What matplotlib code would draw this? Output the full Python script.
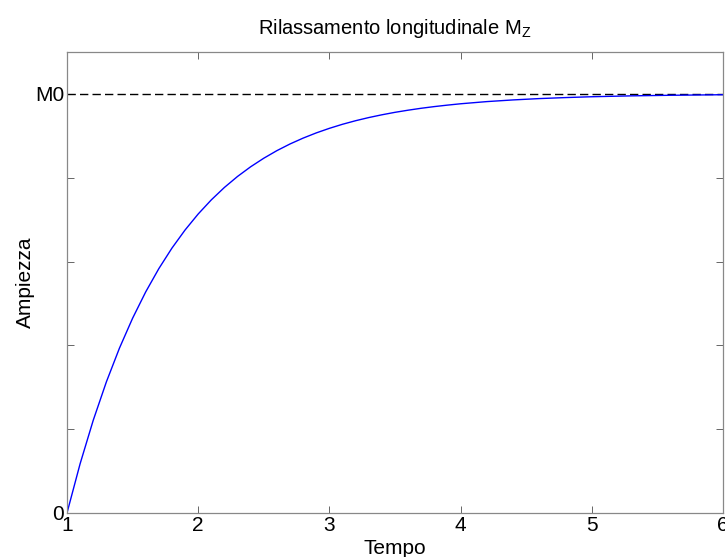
import matplotlib
matplotlib.use("Agg")
import matplotlib.pyplot as plt

plt.rcParams['font.family'] = ['Liberation Sans', 'DejaVu Sans']
plt.rcParams['mathtext.default'] = 'regular'

# Valori (tempo, ampiezza normalizzata su M0)
tempo = [1.0, 1.1, 1.2, 1.3, 1.4, 1.5, 1.6, 1.7, 1.8, 1.9,
         2.0, 2.1, 2.2, 2.3, 2.4, 2.5, 2.6, 2.7, 2.8, 2.9,
         3.0, 3.1, 3.2, 3.3, 3.4, 3.5, 3.6, 3.7, 3.8, 3.9,
         4.0, 4.2, 4.4, 4.6, 4.8, 5.0, 5.3, 5.6, 6.0]
ampiezza = [0.0, 0.1175, 0.2212, 0.3127, 0.3935, 0.4647, 0.5276, 0.5831, 0.6321, 0.6753,
            0.7135, 0.7472, 0.7769, 0.8031, 0.8262, 0.8466, 0.8647, 0.8806, 0.8946, 0.9070,
            0.9179, 0.9276, 0.9361, 0.9436, 0.9502, 0.9561, 0.9612, 0.9658, 0.9698, 0.9733,
            0.9765, 0.9817, 0.9857, 0.9889, 0.9913, 0.9933, 0.9954, 0.9968, 0.9981]
livello_m0 = 1.0
yticks = [0, 0.2, 0.4, 0.6, 0.8, 1.0]
ytick_labels = ['0', '', '', '', '', 'M0']
xticks = [1, 2, 3, 4, 5, 6]

fig = plt.figure(figsize=(7.25, 5.57), dpi=100)
ax = fig.add_axes([0.0924, 0.079, 0.9048, 0.8276])

ax.plot([tempo[0], tempo[-1]], [livello_m0, livello_m0], color='black',
        linestyle=(0, (6, 3)), linewidth=1.0)
ax.plot(tempo, ampiezza, color='blue', linewidth=1.0)

ax.set_xlim(1, 6)
ax.set_ylim(0, 1.1)
ax.set_xticks(xticks)
ax.set_yticks(yticks)
ax.set_yticklabels(ytick_labels)

for s in ax.spines.values():
    s.set_color('#888888')
    s.set_linewidth(0.9)
ax.tick_params(direction='in', length=5, width=0.7, color='#666666',
               top=True, right=True, labelsize=15, pad=2)

ax.set_title('Rilassamento longitudinale M$_Z$', fontsize=14.5, pad=13)
ax.set_xlabel('Tempo', fontsize=15, labelpad=3)
ax.set_ylabel('Ampiezza', fontsize=15, labelpad=0)

fig.savefig('out.png', dpi=100)
